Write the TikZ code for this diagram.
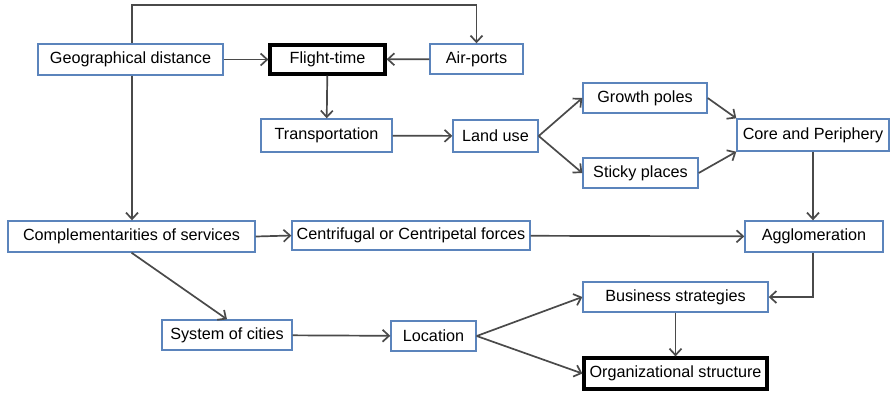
\documentclass[tikz,border=0pt]{standalone}
\usepackage{fontspec}
\setmainfont{Liberation Sans}
\usetikzlibrary{arrows.meta}
\definecolor{boxblue}{HTML}{5B84BC}
\definecolor{linegray}{HTML}{4A4A4A}
\tikzset{
  box/.style={draw=boxblue, line width=1.4pt, fill=white, inner sep=0pt,
    font=\fontsize{16.2}{19}\selectfont, anchor=center},
  keybox/.style={box, draw=black, line width=3.2pt},
  link/.style={draw=linegray, line width=1.7pt,
    -{Straight Barb[length=6.5pt,width=12pt,line width=1.7pt]}},
}
\begin{document}
\begin{tikzpicture}[x=1pt,y=-1pt]
  \useasboundingbox (0,0) rectangle (892,392);
  % boxes
  \node[box, minimum width=185, minimum height=31] (geo) at (130.5,59.5) {Geographical distance};
  \node[keybox, minimum width=115, minimum height=29] (flight) at (327.5,59.5) {Flight-time};
  \node[box, minimum width=93, minimum height=30] (air) at (476.5,59) {Air-ports};
  \node[box, minimum width=131, minimum height=33] (trans) at (326.5,135.5) {Transportation};
  \node[box, minimum width=85, minimum height=32] (land) at (495.5,136) {Land use};
  \node[box, minimum width=124, minimum height=30] (growth) at (645,98) {Growth poles};
  \node[box, minimum width=115, minimum height=30] (sticky) at (640.5,173) {Sticky places};
  \node[box, minimum width=152, minimum height=32] (core) at (813,135) {Core and Periphery};
  \node[box, minimum width=247, minimum height=31] (comp) at (131.5,236.5) {Complementarities of services};
  \node[box, minimum width=238, minimum height=29] (centri) at (411,235.5) {Centrifugal or Centripetal forces};
  \node[box, minimum width=138, minimum height=31] (agglo) at (814,236.5) {Agglomeration};
  \node[box, minimum width=130, minimum height=30] (sys) at (227,335) {System of cities};
  \node[box, minimum width=85, minimum height=30] (loc) at (433.5,336) {Location};
  \node[box, minimum width=185, minimum height=30] (bus) at (675.5,297) {Business strategies};
  \node[keybox, minimum width=183, minimum height=31] (org) at (675.5,373.5) {Organizational structure};
  % helper points of the routed connectors
  \coordinate (topL) at (132,5);
  \coordinate (topR) at (476.5,5);
  \coordinate (aggbend) at (813,297);
  % connectors
  \draw[link] (geo) -- (flight);
  \draw[link] (air) -- (flight);
  \draw[link] (geo.north -| topL) -- (topL) -- (topR) -- (air.north);
  \draw[link] (geo.south -| topL) -- (comp.north -| topL);
  \draw[link] (flight) -- (trans);
  \draw[link] (trans) -- (land);
  \draw[link] (land.east) -- (growth.west);
  \draw[link] (land.east) -- (sticky.west);
  \draw[link] (growth.east) -- (core.north west);
  \draw[link] (sticky.east) -- (core.south west);
  \draw[link] (core.south -| aggbend) -- (agglo.north -| aggbend);
  \draw[link] (comp.east) -- (centri.west);
  \draw[link] (centri) -- (agglo);
  \draw[link] (comp.south) -- (sys.north);
  \draw[link] (sys) -- (loc);
  \draw[link] (loc.east) -- (bus.west);
  \draw[link] (loc.east) -- (org.west);
  \draw[link] (agglo.south -| aggbend) -- (aggbend) -- (bus.east);
  \draw[link] (bus) -- (org);
\end{tikzpicture}
\end{document}
